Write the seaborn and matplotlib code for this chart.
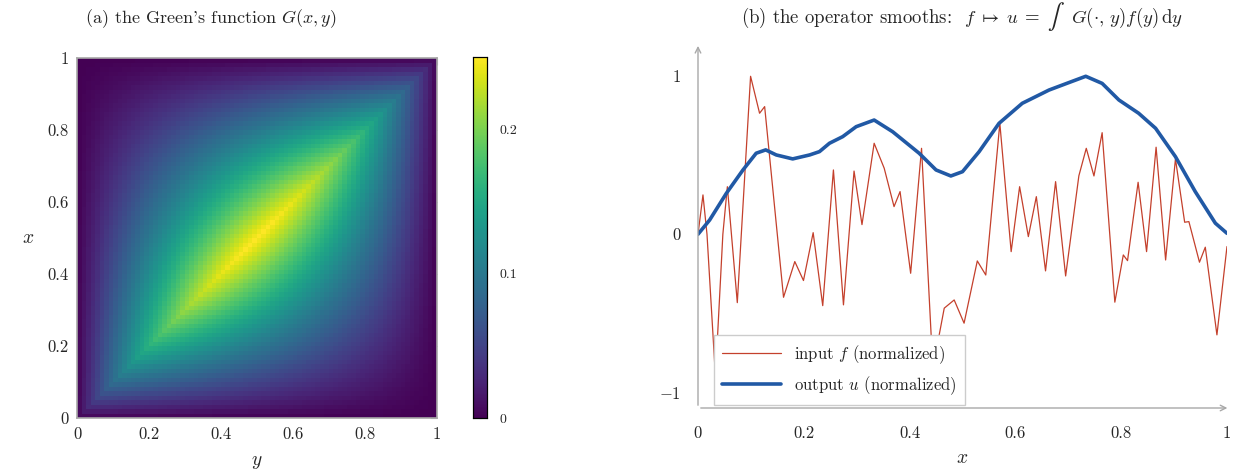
import numpy as np
import pandas as pd
import seaborn as sns
import matplotlib.pyplot as plt

# grid for the Green's function G(x, y) = min(x,y) * (1 - max(x,y))
n_cells = 80
grid = (np.arange(n_cells) + 0.5) / n_cells

# input f (normalized)
f_x = [0.0, 0.0094, 0.017, 0.033, 0.047, 0.0555, 0.0743, 0.0994, 0.1164, 0.126,
       0.1617, 0.183, 0.1994, 0.2177, 0.2358, 0.256, 0.275, 0.295, 0.310, 0.333,
       0.352, 0.3706, 0.382, 0.402, 0.4226, 0.444, 0.4655, 0.4843, 0.503, 0.528,
       0.544, 0.5706, 0.592, 0.608, 0.6245, 0.6396, 0.657, 0.676, 0.695, 0.720,
       0.734, 0.7485, 0.764, 0.788, 0.804, 0.812, 0.832, 0.848, 0.866, 0.884,
       0.9026, 0.920, 0.928, 0.948, 0.959, 0.981, 1.0]
f_y = [0.0, 0.249, 0.0, -0.9, 0.0, 0.301, -0.433, 1.0, 0.766, 0.808,
       -0.399, -0.173, -0.293, 0.010, -0.452, 0.407, -0.447, 0.40, 0.061, 0.576,
       0.418, 0.175, 0.27, -0.247, 0.544, -0.85, -0.468, -0.416, -0.563, -0.169,
       -0.258, 0.702, -0.110, 0.301, -0.015, 0.238, -0.232, 0.333, -0.264, 0.37,
       0.544, 0.369, 0.643, -0.430, -0.131, -0.167, 0.329, -0.110, 0.551, -0.163,
       0.477, 0.076, 0.080, -0.177, -0.082, -0.637, -0.078]

# output u (normalized)
u_x = [0.0, 0.022, 0.0536, 0.085, 0.110, 0.128, 0.148, 0.179, 0.211, 0.2296,
       0.2485, 0.2736, 0.299, 0.333, 0.368, 0.418, 0.450, 0.478, 0.500, 0.5315,
       0.569, 0.613, 0.6636, 0.701, 0.733, 0.764, 0.7957, 0.833, 0.865, 0.9026,
       0.940, 0.978, 1.0]
u_y = [0.0, 0.09, 0.259, 0.407, 0.513, 0.534, 0.502, 0.477, 0.502, 0.523,
       0.576, 0.618, 0.681, 0.723, 0.649, 0.513, 0.407, 0.369, 0.396, 0.523,
       0.702, 0.829, 0.913, 0.96, 1.0, 0.955, 0.85, 0.766, 0.671, 0.491,
       0.27, 0.07, 0.006]

tick_vals = [0, 0.2, 0.4, 0.6, 0.8, 1]
tick_labels = ["0", "0.2", "0.4", "0.6", "0.8", "1"]

sns.set_style("white")
plt.rcParams["font.family"] = ["cmr10", "DejaVu Serif"]
plt.rcParams["mathtext.fontset"] = "cm"
plt.rcParams["axes.formatter.use_mathtext"] = True
plt.rcParams["axes.unicode_minus"] = False

gray = "#a8a8a8"
W = 1240
fig = plt.figure(figsize=(12.4, 4.72), dpi=100)
ax1 = fig.add_axes([0.0621, 0.1144, 0.2903, 0.7627])
cax = fig.add_axes([0.3815, 0.1144, 0.0113, 0.7648])
ax2 = fig.add_axes([0.5629, 0.1356, 0.4266, 0.7697])

# ---- (a) heatmap
X, Y = np.meshgrid(grid, grid, indexing="ij")
G = np.minimum(X, Y) * (1 - np.maximum(X, Y))
df = pd.DataFrame(G, index=grid, columns=grid)
sns.heatmap(df, ax=ax1, cmap="viridis", vmin=0, vmax=0.25, cbar_ax=cax,
            xticklabels=False, yticklabels=False)
ax1.invert_yaxis()
pos = [v * n_cells for v in tick_vals]
ax1.set_xticks(pos)
ax1.set_xticklabels(tick_labels, fontsize=12)
ax1.set_yticks(pos)
ax1.set_yticklabels(tick_labels, fontsize=12)
ax1.tick_params(direction="in", length=5, color=gray, top=True, right=True,
                labeltop=False, labelright=False, pad=6)
for sp in ax1.spines.values():
    sp.set_visible(True)
    sp.set_color(gray)
    sp.set_linewidth(1.2)
ax1.set_xlabel("$y$", fontsize=14, labelpad=8)
ax1.set_ylabel("$x$", fontsize=14, rotation=0, labelpad=14, va="center")
fig.text(211 / W, 0.952, "(a) the Green's function $G(x,y)$", ha="center", va="baseline", fontsize=13)

cax.set_yticks([0, 0.1, 0.2])
cax.set_yticklabels(["0", "0.1", "0.2"], fontsize=10)
cax.tick_params(direction="in", length=6, color=gray, right=True, left=True, pad=9)
for sp in cax.spines.values():
    sp.set_visible(True)
    sp.set_color("black")
    sp.set_linewidth(0.8)

# ---- (b) smoothing
line_df = pd.concat([
    pd.DataFrame({"x": f_x, "y": f_y, "series": "input $f$ (normalized)"}),
    pd.DataFrame({"x": u_x, "y": u_y, "series": "output $u$ (normalized)"}),
])
sns.lineplot(data=line_df, x="x", y="y", hue="series", size="series",
             sizes={"input $f$ (normalized)": 0.9, "output $u$ (normalized)": 2.6},
             palette={"input $f$ (normalized)": "#c4402c", "output $u$ (normalized)": "#2159a5"},
             ax=ax2, sort=False, estimator=None)
ax2.set_xlim(0, 1.0)
ax2.set_ylim(-1.1, 1.2)
for sp in ax2.spines.values():
    sp.set_visible(False)
ax2.annotate("", xy=(1.006, -1.1), xytext=(0, -1.1), annotation_clip=False,
             arrowprops=dict(arrowstyle="->", color=gray, lw=1.0))
ax2.annotate("", xy=(0, 1.21), xytext=(0, -1.1), annotation_clip=False,
             arrowprops=dict(arrowstyle="->", color=gray, lw=1.0))
ax2.set_xticks(tick_vals)
ax2.set_xticklabels(tick_labels, fontsize=12)
ax2.set_yticks([-1, 0, 1])
ax2.set_yticklabels(["$-1$", "0", "1"], fontsize=12)
ax2.tick_params(direction="inout", length=9, color=gray, pad=8)
ax2.set_xlabel("$x$", fontsize=14, labelpad=6)
ax2.set_ylabel("")
leg = ax2.legend(loc="lower left", bbox_to_anchor=(0.03, 0.008), borderaxespad=0,
                 fontsize=12, frameon=True, fancybox=False, edgecolor="#cccccc",
                 framealpha=1, handlelength=3.5, borderpad=0.5)
leg.get_frame().set_linewidth(1.0)

# title (b) in pieces so the integral sign stays text-sized
pieces = [(r"(b) the operator smooths:  $f\;\mapsto\;u\;=$", "cm", 13.5),
          (r"$\int$", "stix", 18),
          (r"$G(\cdot,\,y)f(y)\,\mathrm{d}y$", "cm", 13.5)]
renderer = fig.canvas.get_renderer()
texts = [fig.text(0, 0.952, s, fontsize=fs, va="baseline", ha="left", math_fontfamily=mf)
         for s, mf, fs in pieces]
widths = [t.get_window_extent(renderer).width for t in texts]
gap = 6
x0 = 962 - (sum(widths) + gap * (len(widths) - 1)) / 2
for t, w in zip(texts, widths):
    t.set_x(x0 / W)
    x0 += w + gap

fig.savefig("out.png", dpi=100)
